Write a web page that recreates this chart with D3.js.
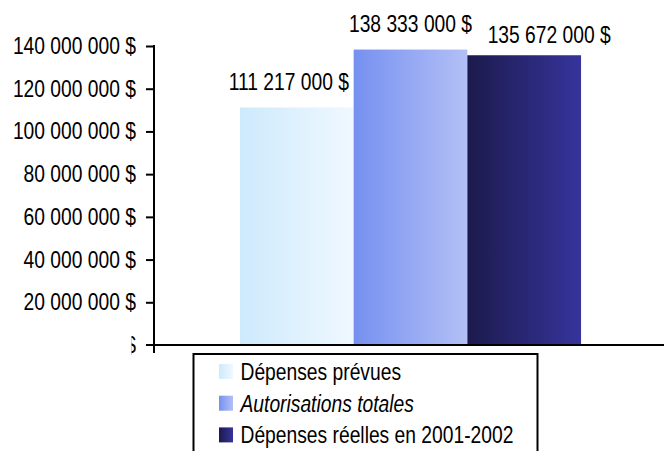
<!DOCTYPE html>
<html>
<head>
<meta charset="utf-8">
<script src="https://cdn.jsdelivr.net/npm/d3@7"></script>
<style>
  html, body { margin: 0; padding: 0; background: #fff; }
  svg { display: block; font-family: 'Liberation Sans', Arial, sans-serif; }
</style>
</head>
<body>
<div id="chart"></div>
<script>
// Data.
const categories = [''];
const seriesNames = ['Dépenses prévues', 'Autorisations totales', 'Dépenses réelles en 2001-2002'];
const seriesValues = [111217000, 138333000, 135672000];
const yTicks = [0, 20000000, 40000000, 60000000, 80000000, 100000000, 120000000, 140000000];

const attrs = {
  svgWidth: 664,
  svgHeight: 451,
  plotLeft: 154,
  plotRight: 667,
  plotTop: 46,
  plotBottom: 345,
  fontSize: 23.5,
  // No narrow font installed, so squeeze Liberation Sans horizontally.
  narrow: 0.82,
  gradients: [
    ['#cdeafc', '#f0f8ff'],
    ['#7690f0', '#b3c0f6'],
    ['#1c1a4c', '#36349c'],
  ],
  // Manual label nudges (dx, gap above bar), as placed in the original.
  labelNudge: [[-8, 17.5], [0, 17.4], [25, 12.6]],
};

const locale = d3.formatLocale({ decimal: ',', thousands: ' ', grouping: [3], currency: ['', ' $'] });
const money = locale.format('$,');

const squeeze = (x, y) => 'translate(' + x + ',' + y + ') scale(' + attrs.narrow + ',1)';

const svg = d3.select('#chart').append('svg')
  .attr('width', attrs.svgWidth)
  .attr('height', attrs.svgHeight);

// Gradients.
const defs = svg.append('defs');
attrs.gradients.forEach((g, i) => {
  const lg = defs.append('linearGradient')
    .attr('id', 'grad-' + i)
    .attr('x1', '0%').attr('x2', '100%')
    .attr('y1', '0%').attr('y2', '0%');
  lg.append('stop').attr('offset', '0%').attr('stop-color', g[0]);
  lg.append('stop').attr('offset', '100%').attr('stop-color', g[1]);
});

defs.append('clipPath').attr('id', 'zero-clip')
  .append('rect')
  .attr('x', 131.5).attr('y', 320).attr('width', 14).attr('height', 50);

// Scales.
const x0 = d3.scaleBand()
  .domain(categories)
  .range([attrs.plotLeft, attrs.plotRight])
  .paddingOuter(0.252)
  .paddingInner(0);

const x1 = d3.scaleBand()
  .domain(seriesNames)
  .range([0, x0.bandwidth()]);

const y = d3.scaleLinear()
  .domain([0, 140000000])
  .range([attrs.plotBottom, attrs.plotTop]);

// Bars.
svg.append('g').attr('class', 'bars')
  .selectAll('rect')
  .data(seriesValues)
  .enter()
  .append('rect')
  .attr('x', (d, i) => x0(categories[0]) + x1(seriesNames[i]))
  .attr('y', d => y(d))
  .attr('width', x1.bandwidth())
  .attr('height', d => y(0) - y(d))
  .attr('fill', (d, i) => 'url(#grad-' + i + ')');

// Value labels.
svg.append('g').attr('class', 'labels')
  .selectAll('text')
  .data(seriesValues)
  .enter()
  .append('text')
  .attr('transform', (d, i) => squeeze(
    x0(categories[0]) + x1(seriesNames[i]) + x1.bandwidth() / 2 + attrs.labelNudge[i][0],
    y(d) - attrs.labelNudge[i][1]))
  .attr('text-anchor', 'middle')
  .attr('font-size', attrs.fontSize)
  .attr('fill', '#000')
  .text(d => money(d));

// Y axis.
const yAxis = d3.axisLeft(y)
  .tickValues(yTicks.filter(d => d !== 0))
  .tickSize(8)
  .tickPadding(10)
  .tickFormat(d => money(d));

const yAxisG = svg.append('g')
  .attr('class', 'y-axis')
  .attr('transform', 'translate(' + attrs.plotLeft + ',0)')
  .call(yAxis);

yAxisG.select('.domain').remove();
yAxisG.selectAll('line').attr('stroke', '#000').attr('stroke-width', 2);
yAxisG.selectAll('text')
  .attr('x', 0)
  .attr('transform', 'translate(-18,0) scale(' + attrs.narrow + ',1)')
  .attr('font-size', attrs.fontSize)
  .attr('fill', '#000');

// The zero label is cut off in the original; only a sliver of the "$" shows.
svg.append('g')
  .attr('clip-path', 'url(#zero-clip)')
  .append('text')
  .attr('transform', squeeze(attrs.plotLeft - 18, y(yTicks[0])))
  .attr('dy', '0.32em')
  .attr('text-anchor', 'end')
  .attr('font-size', attrs.fontSize)
  .attr('fill', '#000')
  .text(money(yTicks[0]));

// Axis lines.
svg.append('line')
  .attr('x1', attrs.plotLeft).attr('x2', attrs.plotLeft)
  .attr('y1', y(140000000) - 1).attr('y2', attrs.plotBottom + 8)
  .attr('stroke', '#000').attr('stroke-width', 2);

svg.append('line')
  .attr('x1', attrs.plotLeft - 8).attr('x2', attrs.svgWidth + 4)
  .attr('y1', attrs.plotBottom).attr('y2', attrs.plotBottom)
  .attr('stroke', '#000').attr('stroke-width', 2);

// Legend.
const legend = svg.append('g').attr('class', 'legend');
legend.append('rect')
  .attr('x', 193.5).attr('y', 354)
  .attr('width', 344).attr('height', 120)
  .attr('fill', '#fff')
  .attr('stroke', '#000')
  .attr('stroke-width', 2);

const items = legend.selectAll('.legend-item')
  .data(seriesNames)
  .enter()
  .append('g')
  .attr('class', 'legend-item')
  .attr('transform', (d, i) => 'translate(0,' + (i * 31.7) + ')');

items.append('rect')
  .attr('x', 219).attr('y', 364)
  .attr('width', 14).attr('height', 15)
  .attr('fill', (d, i) => 'url(#grad-' + i + ')');

items.append('text')
  .attr('transform', squeeze(240.5, 380))
  .attr('font-size', attrs.fontSize)
  .attr('font-style', (d, i) => i === 1 ? 'italic' : 'normal')
  .attr('fill', '#000')
  .text(d => d);
</script>
</body>
</html>
